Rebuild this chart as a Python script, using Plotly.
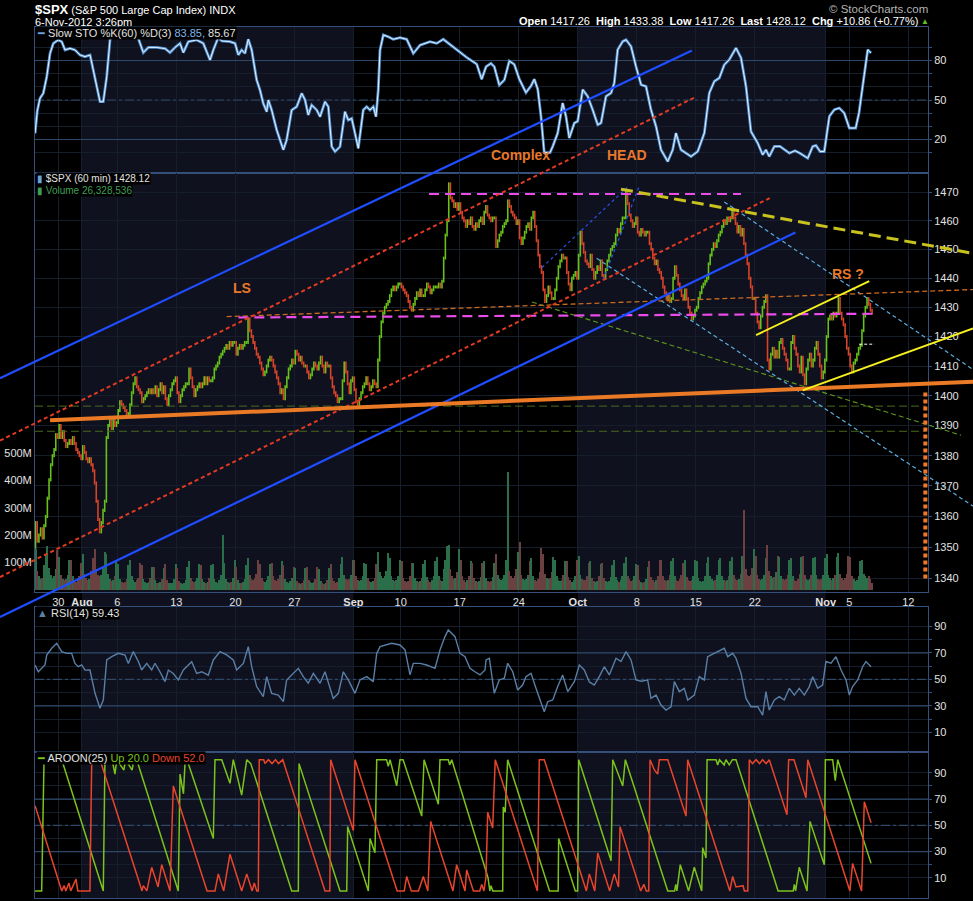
import math
import plotly.graph_objects as go

# ---------------------------------------------------------------------------
# data ($SPX, 60 min bars, 7 per session)
# ---------------------------------------------------------------------------
DAYS = ["Jul 26", "Jul 27", "Jul 30", "Jul 31", "Aug 1", "Aug 2", "Aug 3",
        "Aug 6", "Aug 7", "Aug 8", "Aug 9", "Aug 10", "Aug 13", "Aug 14",
        "Aug 15", "Aug 16", "Aug 17", "Aug 20", "Aug 21", "Aug 22", "Aug 23",
        "Aug 24", "Aug 27", "Aug 28", "Aug 29", "Aug 30", "Aug 31", "Sep 4",
        "Sep 5", "Sep 6", "Sep 7", "Sep 10", "Sep 11", "Sep 12", "Sep 13",
        "Sep 14", "Sep 17", "Sep 18", "Sep 19", "Sep 20", "Sep 21", "Sep 24",
        "Sep 25", "Sep 26", "Sep 27", "Sep 28", "Oct 1", "Oct 2", "Oct 3",
        "Oct 4", "Oct 5", "Oct 8", "Oct 9", "Oct 10", "Oct 11", "Oct 12",
        "Oct 15", "Oct 16", "Oct 17", "Oct 18", "Oct 19", "Oct 22", "Oct 23",
        "Oct 24", "Oct 25", "Oct 26", "Oct 31", "Nov 1", "Nov 2", "Nov 5", "Nov 6"]
FUTURE_DAYS = ["Nov 7", "Nov 8", "Nov 9", "Nov 12"]

OPEN_FIRST = 1350
CLOSE = [
    [1358, 1352, 1354, 1356, 1353, 1357, 1360], [1366, 1372, 1377, 1380, 1382, 1387, 1386],
    [1390, 1386, 1388, 1385, 1383, 1384, 1385], [1384, 1386, 1384, 1382, 1381, 1380, 1379],
    [1383, 1381, 1379, 1378, 1379, 1377, 1375], [1371, 1365, 1359, 1355, 1358, 1362, 1365],
    [1386, 1390, 1392, 1389, 1392, 1390, 1391], [1395, 1398, 1397, 1396, 1395, 1394, 1394],
    [1397, 1401, 1404, 1406, 1403, 1402, 1401], [1398, 1399, 1400, 1401, 1402, 1401, 1402],
    [1401, 1403, 1400, 1402, 1404, 1401, 1403], [1399, 1397, 1400, 1402, 1404, 1405, 1406],
    [1401, 1398, 1400, 1402, 1403, 1404, 1404], [1409, 1406, 1403, 1400, 1402, 1403, 1404],
    [1403, 1404, 1406, 1404, 1406, 1405, 1405], [1406, 1409, 1410, 1411, 1413, 1414, 1415],
    [1416, 1417, 1416, 1418, 1417, 1418, 1418], [1414, 1416, 1417, 1416, 1417, 1418, 1418],
    [1426, 1422, 1420, 1418, 1416, 1414, 1413], [1411, 1409, 1407, 1408, 1410, 1412, 1413],
    [1412, 1410, 1408, 1406, 1404, 1401, 1402], [1399, 1403, 1406, 1409, 1410, 1412, 1411],
    [1415, 1414, 1412, 1413, 1411, 1410, 1410], [1408, 1406, 1407, 1409, 1411, 1410, 1409],
    [1411, 1413, 1410, 1408, 1411, 1410, 1410], [1406, 1403, 1401, 1400, 1398, 1399, 1399],
    [1405, 1411, 1408, 1404, 1401, 1405, 1406], [1402, 1398, 1397, 1399, 1401, 1403, 1404],
    [1406, 1404, 1402, 1403, 1405, 1404, 1403], [1412, 1420, 1425, 1428, 1430, 1431, 1432],
    [1434, 1436, 1437, 1436, 1437, 1438, 1438], [1437, 1436, 1435, 1434, 1432, 1430, 1429],
    [1431, 1433, 1435, 1434, 1436, 1434, 1434], [1436, 1438, 1437, 1435, 1436, 1437, 1437],
    [1437, 1438, 1437, 1439, 1447, 1455, 1460], [1473, 1468, 1467, 1465, 1466, 1464, 1466],
    [1463, 1461, 1460, 1458, 1460, 1459, 1461], [1458, 1457, 1459, 1458, 1460, 1461, 1459],
    [1463, 1465, 1462, 1461, 1460, 1461, 1461], [1451, 1453, 1455, 1456, 1458, 1459, 1460],
    [1467, 1465, 1463, 1462, 1461, 1459, 1460], [1454, 1452, 1454, 1456, 1458, 1459, 1457],
    [1461, 1463, 1458, 1453, 1448, 1444, 1442], [1436, 1432, 1434, 1437, 1435, 1433, 1433],
    [1436, 1440, 1444, 1446, 1448, 1447, 1447], [1442, 1438, 1436, 1440, 1441, 1442, 1440],
    [1448, 1456, 1452, 1449, 1446, 1445, 1444], [1448, 1443, 1440, 1442, 1444, 1443, 1446],
    [1441, 1440, 1443, 1446, 1448, 1450, 1451], [1452, 1455, 1457, 1456, 1459, 1461, 1461],
    [1470, 1466, 1462, 1460, 1458, 1459, 1461], [1456, 1455, 1457, 1456, 1455, 1456, 1456],
    [1452, 1450, 1447, 1445, 1446, 1443, 1442], [1440, 1437, 1435, 1433, 1434, 1432, 1433],
    [1440, 1444, 1441, 1438, 1436, 1434, 1433], [1436, 1433, 1430, 1428, 1426, 1427, 1429],
    [1430, 1433, 1435, 1437, 1438, 1439, 1440], [1445, 1448, 1450, 1452, 1451, 1453, 1455],
    [1456, 1458, 1460, 1459, 1461, 1460, 1461], [1464, 1461, 1459, 1456, 1458, 1455, 1457],
    [1452, 1448, 1445, 1440, 1437, 1433, 1433], [1428, 1425, 1423, 1427, 1430, 1432, 1434],
    [1412, 1409, 1414, 1416, 1413, 1415, 1413], [1418, 1419, 1416, 1414, 1412, 1409, 1409],
    [1418, 1420, 1416, 1414, 1410, 1408, 1413], [1407, 1404, 1409, 1412, 1414, 1410, 1412],
    [1416, 1418, 1414, 1410, 1406, 1408, 1412], [1420, 1426, 1427, 1426, 1428, 1427, 1428],
    [1433, 1428, 1426, 1424, 1420, 1416, 1414], [1410, 1408, 1411, 1412, 1414, 1416, 1417],
    [1422, 1427, 1430, 1433, 1431, 1429, 1428],
]

VOLUME_M = [
    [150, 70, 50, 40, 45, 90, 130], [160, 80, 55, 45, 50, 75, 145], [120, 55, 40, 35, 40, 55, 110],
    [110, 50, 36, 30, 36, 50, 100], [130, 60, 45, 36, 40, 70, 115], [150, 75, 55, 50, 55, 85, 140],
    [130, 60, 40, 32, 36, 50, 105], [95, 40, 30, 26, 30, 40, 90], [110, 50, 36, 30, 35, 45, 100],
    [90, 40, 30, 26, 30, 45, 85], [85, 36, 27, 24, 28, 40, 80], [95, 36, 27, 24, 27, 40, 95],
    [80, 34, 26, 22, 26, 38, 85], [105, 45, 34, 28, 32, 44, 95], [90, 40, 30, 26, 30, 45, 90],
    [95, 40, 30, 26, 36, 55, 200], [100, 40, 30, 26, 30, 44, 110], [85, 36, 27, 24, 28, 40, 90],
    [115, 55, 40, 36, 44, 60, 110], [95, 45, 34, 30, 36, 50, 95], [100, 50, 38, 34, 40, 55, 105],
    [90, 40, 30, 26, 32, 45, 85], [80, 34, 26, 22, 26, 36, 80], [85, 36, 28, 24, 28, 40, 85],
    [75, 34, 25, 22, 25, 36, 80], [95, 44, 32, 26, 30, 45, 95], [120, 55, 40, 36, 40, 55, 110],
    [110, 50, 38, 32, 36, 50, 100], [95, 44, 32, 28, 32, 45, 95], [140, 65, 50, 44, 50, 70, 135],
    [115, 50, 38, 32, 36, 50, 110], [105, 45, 34, 30, 34, 50, 100], [100, 44, 32, 28, 32, 45, 95],
    [110, 48, 36, 30, 36, 50, 105], [120, 50, 38, 34, 75, 110, 160], [165, 75, 50, 40, 45, 65, 150],
    [110, 50, 36, 30, 36, 50, 105], [100, 45, 34, 30, 34, 48, 100], [105, 45, 34, 30, 34, 48, 100],
    [130, 55, 40, 36, 40, 55, 110], [430, 70, 50, 45, 50, 75, 140], [176, 55, 40, 36, 40, 55, 105],
    [115, 50, 38, 34, 40, 65, 155], [130, 60, 45, 40, 45, 65, 120], [110, 50, 38, 34, 38, 55, 105],
    [105, 48, 36, 30, 36, 52, 110], [125, 55, 40, 36, 38, 52, 100], [105, 45, 34, 30, 34, 50, 95],
    [100, 44, 32, 28, 32, 48, 90], [110, 48, 36, 30, 36, 50, 100], [120, 52, 40, 34, 38, 52, 95],
    [90, 38, 28, 24, 28, 40, 85], [105, 48, 36, 30, 36, 52, 110], [110, 50, 38, 34, 38, 55, 105],
    [115, 50, 38, 34, 40, 56, 100], [110, 48, 36, 32, 36, 52, 110], [105, 45, 34, 30, 34, 50, 100],
    [120, 52, 40, 34, 38, 55, 110], [115, 50, 38, 32, 36, 52, 105], [120, 55, 40, 36, 40, 60, 125],
    [292, 75, 55, 50, 55, 80, 150], [125, 55, 40, 36, 40, 56, 115], [165, 70, 50, 44, 48, 65, 125],
    [120, 52, 40, 36, 40, 56, 110], [115, 50, 38, 34, 40, 60, 120], [125, 55, 40, 36, 40, 55, 115],
    [120, 55, 40, 36, 40, 56, 115], [130, 56, 44, 38, 42, 56, 120], [135, 60, 45, 38, 44, 60, 125],
    [120, 52, 40, 34, 38, 52, 105], [110, 60, 50, 45, 50, 40, 26],
]

TICKS = [("Jul 30", "30"), ("Aug 1", "<b>Aug</b>"), ("Aug 6", "6"), ("Aug 13", "13"),
         ("Aug 20", "20"), ("Aug 27", "27"), ("Sep 4", "<b>Sep</b>"), ("Sep 10", "10"),
         ("Sep 17", "17"), ("Sep 24", "24"), ("Oct 1", "<b>Oct</b>"), ("Oct 8", "8"),
         ("Oct 15", "15"), ("Oct 22", "22"), ("Nov 1", "<b>Nov</b>"), ("Nov 5", "5"),
         ("Nov 12", "12")]
SHADED_MONTHS = [("Aug 1", "Sep 4"), ("Oct 1", "Nov 1")]
PRICE_TICKS = list(range(1340, 1471, 10))
VOL_TICKS = [100, 200, 300, 400, 500]

# indicator vertices: (trading-day position, value)
STO = [(0.03, 24.7), (0.22, 41.8), (0.45, 51.3), (0.73, 55.1), (1.02, 67.7), (1.30, 85.4), (1.58, 93.0),
       (2.00, 95.6), (2.29, 94.3), (2.57, 88.0), (2.99, 89.2), (3.41, 88.0), (3.84, 84.2), (4.26, 82.9),
       (4.69, 84.2), (5.11, 67.7), (5.53, 48.7), (5.81, 48.7), (6.10, 67.7), (6.38, 95.6), (6.55, 99.5),
       (7.20, 99.8), (8.00, 99.5), (8.75, 97.4), (9.20, 86.0), (9.62, 89.9), (10.33, 89.9), (11.05, 89.0),
       (11.46, 86.0), (11.88, 89.9), (12.31, 93.0), (12.59, 86.0), (13.01, 94.3), (13.72, 95.6),
       (14.28, 93.0), (14.85, 80.4), (15.13, 88.0), (15.55, 97.4), (15.84, 94.8), (16.54, 94.3),
       (16.97, 93.0), (17.25, 84.2), (17.53, 88.0), (17.81, 85.4), (18.09, 96.1), (18.38, 88.0),
       (18.80, 65.2), (19.08, 57.6), (19.36, 47.5), (19.65, 41.1), (19.79, 50.0), (20.07, 42.4),
       (20.50, 27.2), (21.06, 12.1), (21.34, 19.7), (21.77, 42.4), (22.19, 44.9), (22.62, 55.1),
       (22.90, 50.0), (23.17, 38.6), (23.46, 46.2), (23.89, 42.4), (24.17, 37.3), (24.59, 48.7),
       (24.87, 44.9), (25.16, 14.6), (25.44, 10.8), (25.86, 14.6), (26.28, 41.1), (26.56, 34.8),
       (26.85, 36.0), (27.13, 24.7), (27.41, 13.3), (27.83, 42.4), (28.12, 44.9), (28.40, 42.4),
       (28.68, 44.9), (28.91, 37.3), (29.10, 57.6), (29.25, 88.0), (29.53, 99.4), (29.95, 98.0),
       (30.37, 96.1), (30.94, 97.4), (31.51, 96.1), (32.07, 85.4), (32.64, 91.7), (33.48, 94.3),
       (34.05, 93.0), (34.61, 96.1), (35.46, 89.9), (36.59, 82.3), (37.44, 77.2), (37.86, 65.8),
       (38.23, 75.3), (38.65, 77.8), (38.93, 75.3), (39.35, 61.4), (39.78, 65.2), (40.20, 79.6),
       (40.62, 77.1), (41.05, 65.8), (41.61, 55.6), (42.04, 60.7), (42.32, 65.8), (42.61, 58.2),
       (42.88, 37.9), (43.16, 10.1), (43.65, 10.1), (43.88, 14.8), (44.30, 24.9), (44.72, 47.7),
       (45.00, 37.6), (45.28, 21.1), (45.71, 32.5), (45.99, 33.8), (46.42, 57.9), (46.84, 52.8),
       (47.26, 42.6), (47.69, 31.2), (47.97, 32.5), (48.39, 52.8), (48.82, 55.3), (49.09, 62.9),
       (49.38, 88.2), (49.81, 94.5), (50.09, 95.8), (50.51, 90.7), (50.93, 75.5), (51.36, 61.6),
       (51.78, 60.3), (52.20, 42.6), (52.63, 29.9), (53.05, 12.2), (53.62, 3.3), (54.04, 12.2),
       (54.32, 24.9), (54.74, 12.2), (55.17, 9.6), (55.59, 7.1), (56.16, 10.9), (56.72, 24.9),
       (57.14, 55.3), (57.57, 64.2), (57.99, 66.7), (58.41, 76.8), (58.83, 80.6), (59.40, 89.5),
       (59.83, 81.9), (60.25, 60.3), (60.67, 26.1), (61.24, 17.3), (61.66, 8.4), (61.94, 12.2),
       (62.22, 7.1), (62.65, 14.8), (63.13, 14.8), (63.92, 9.6), (64.40, 11.5), (64.82, 9.6),
       (65.48, 5.8), (65.90, 14.8), (66.18, 15.5), (66.52, 10.9), (66.88, 10.9), (67.31, 37.6),
       (67.73, 42.6), (68.15, 43.9), (68.57, 40.1), (69.00, 28.7), (69.54, 28.7), (69.82, 40.1),
       (70.13, 60.3), (70.56, 88.2), (70.84, 85.7)]

RSI = [(0.03, 60.8), (0.30, 55.7), (0.87, 60.8), (1.02, 68.3), (1.44, 73.4), (1.86, 77.2), (2.29, 70.9),
       (2.71, 69.6), (3.13, 69.6), (3.41, 62.0), (3.69, 59.5), (3.98, 60.8), (4.26, 56.9), (4.68, 57.0),
       (5.11, 39.4), (5.53, 28.1), (5.81, 34.4), (6.10, 64.6), (6.52, 67.1), (7.08, 69.6), (7.65, 68.3),
       (7.93, 62.0), (8.35, 70.9), (8.78, 63.4), (9.06, 57.0), (9.49, 62.0), (9.91, 57.0), (10.19, 62.1),
       (10.61, 55.7), (11.04, 48.2), (11.32, 57.0), (11.74, 54.4), (12.16, 49.5), (12.59, 57.0),
       (13.30, 63.3), (13.72, 54.4), (14.15, 55.7), (14.70, 53.1), (15.13, 64.6), (15.70, 70.9),
       (16.26, 68.4), (16.82, 64.6), (17.11, 57.0), (17.67, 62.0), (18.09, 74.6), (18.38, 59.5),
       (18.80, 44.5), (19.36, 36.9), (19.65, 52.0), (20.07, 39.4), (20.63, 38.1), (21.06, 33.1),
       (21.34, 49.5), (21.77, 53.3), (22.33, 58.3), (22.75, 52.0), (23.17, 47.0), (23.60, 54.4),
       (24.17, 47.0), (24.59, 55.7), (25.01, 44.5), (25.29, 35.6), (25.72, 39.4), (26.14, 55.7),
       (26.56, 49.5), (27.13, 39.4), (27.55, 49.5), (28.12, 52.0), (28.68, 48.2), (28.97, 69.6),
       (29.25, 74.6), (30.24, 77.2), (30.94, 75.9), (31.37, 72.2), (31.79, 53.3), (32.07, 62.0),
       (32.64, 62.0), (33.20, 60.8), (33.91, 58.3), (34.33, 72.1), (34.75, 82.2), (35.03, 87.2),
       (35.60, 82.2), (36.02, 69.6), (36.45, 67.1), (36.87, 58.3), (37.29, 55.7), (37.72, 53.3),
       (38.14, 57.0), (38.23, 64.6), (38.51, 65.9), (38.93, 39.4), (39.35, 49.5), (39.78, 50.8),
       (40.06, 62.1), (40.49, 55.7), (40.91, 41.9), (41.33, 45.7), (41.61, 52.0), (42.04, 54.5),
       (42.46, 43.2), (42.88, 33.1), (43.16, 25.5), (43.45, 33.1), (43.88, 34.4), (44.30, 44.5),
       (44.72, 53.3), (45.15, 40.7), (45.71, 48.2), (46.13, 60.8), (46.55, 57.0), (46.98, 48.0),
       (47.40, 45.7), (47.82, 52.0), (48.25, 59.5), (48.67, 53.3), (49.24, 65.9), (49.66, 63.4),
       (50.09, 70.9), (50.51, 64.6), (50.93, 49.5), (51.36, 48.5), (51.92, 49.5), (52.20, 35.6),
       (52.63, 38.1), (53.05, 30.6), (53.47, 26.8), (53.90, 29.3), (54.18, 48.2), (54.60, 40.7),
       (55.02, 43.2), (55.31, 34.4), (55.87, 38.1), (56.29, 52.0), (56.72, 49.5), (57.00, 67.1),
       (57.56, 69.6), (57.99, 72.1), (58.41, 73.4), (58.70, 67.1), (59.12, 69.6), (59.40, 65.9),
       (59.83, 54.5), (60.25, 35.6), (60.67, 29.3), (61.24, 29.3), (61.66, 23.0), (61.94, 40.7),
       (62.22, 26.8), (62.65, 34.4), (63.07, 36.9), (63.49, 34.4), (63.92, 43.2), (64.34, 38.1),
       (64.76, 43.2), (65.19, 38.1), (65.61, 44.5), (65.90, 52.0), (66.32, 43.2), (66.74, 45.7),
       (67.02, 63.4), (67.45, 62.1), (67.87, 67.1), (68.30, 57.0), (68.72, 49.5), (69.00, 38.1),
       (69.28, 44.5), (69.71, 49.5), (70.13, 59.5), (70.41, 63.4), (70.84, 59.5)]

AROON_UP = [(0.03, 0), (0.59, 0), (0.79, 100), (2.29, 100), (5.81, 0), (5.95, 100), (6.55, 100),
            (6.80, 89), (6.95, 100), (7.55, 92), (7.70, 100), (8.25, 92), (8.40, 100), (8.64, 100),
            (12.16, 0), (12.31, 89), (12.60, 74), (12.73, 97), (12.90, 100), (15.13, 40), (15.27, 100),
            (15.84, 100), (16.54, 82), (16.82, 100), (17.53, 73), (17.96, 100), (18.30, 97), (21.77, 0),
            (22.33, 0), (22.39, 97), (25.86, 0), (26.43, 0), (26.51, 49), (28.26, 0), (28.40, 40),
            (28.55, 36), (28.82, 29), (28.97, 100), (29.80, 100), (29.95, 95), (30.10, 100), (30.66, 80),
            (30.94, 100), (31.20, 100), (32.78, 57), (32.98, 100), (34.19, 66), (34.33, 100),
            (35.03, 100), (35.15, 96), (35.32, 100), (38.23, 15), (38.40, 10), (38.55, 0), (38.65, 4),
            (38.80, 0), (39.64, 0), (39.69, 64), (39.85, 60), (40.06, 100), (43.61, 0), (44.34, 0),
            (44.38, 40), (45.79, 0), (45.99, 0), (46.08, 100), (48.82, 23), (48.96, 100), (49.09, 97),
            (49.81, 80), (50.03, 100), (53.62, 0), (54.20, 0), (54.30, 5), (54.40, 0), (54.68, 20),
            (55.39, 0), (55.87, 18), (56.50, 0), (56.58, 33), (56.86, 25), (56.95, 100), (57.71, 100),
            (57.85, 96), (58.00, 100), (58.40, 96), (58.55, 100), (58.83, 96), (59.10, 100),
            (59.40, 100), (62.97, 0), (64.25, 0), (64.34, 5), (64.45, 0), (64.76, 18), (65.42, 0),
            (65.67, 53), (66.88, 20), (66.97, 100), (67.59, 100), (67.81, 84), (68.02, 100), (70.84, 21)]

AROON_DOWN = [(0.03, 65), (2.29, 0), (2.50, 4), (2.63, 0), (2.90, 6), (3.05, 0), (3.50, 9), (3.65, 0),
              (4.68, 0), (4.83, 100), (5.53, 100), (9.09, 0), (9.20, 4), (9.50, 0), (9.91, 18),
              (10.45, 3), (10.76, 20), (11.46, 0), (11.74, 80), (14.60, 0), (15.27, 0), (15.55, 13),
              (16.01, 0), (16.54, 28), (17.53, 0), (17.96, 13), (18.42, 0), (18.60, 6), (18.81, 0),
              (18.94, 0), (19.02, 100), (19.40, 100), (19.50, 97), (19.80, 100), (20.10, 97),
              (20.40, 100), (20.65, 97), (21.01, 100), (24.59, 0), (25.00, 0), (25.07, 100),
              (26.99, 46), (27.13, 100), (30.70, 0), (31.30, 0), (31.51, 11), (31.90, 0), (32.50, 0),
              (32.92, 11), (33.30, 0), (33.54, 53), (35.43, 0), (35.74, 20), (36.45, 0), (36.59, 16),
              (37.16, 0), (37.70, 0), (37.86, 5), (38.05, 0), (38.23, 11), (38.37, 60), (38.65, 52),
              (38.79, 48), (39.01, 100), (42.58, 0), (42.74, 100), (43.16, 100), (46.73, 0),
              (46.98, 13), (47.44, 0), (47.69, 29), (48.70, 0), (49.09, 13), (49.45, 3), (49.58, 49),
              (51.33, 0), (51.60, 5), (51.80, 0), (52.01, 0), (52.12, 100), (52.50, 92), (52.77, 89),
              (52.91, 100), (53.62, 100), (55.17, 57), (55.31, 100), (58.88, 0), (59.12, 11),
              (59.40, 3), (60.00, 4), (60.11, 0), (60.40, 0), (60.53, 100), (60.80, 97), (61.10, 100),
              (61.40, 97), (61.65, 100), (61.95, 97), (62.22, 100), (63.72, 58), (63.86, 100),
              (64.31, 100), (65.33, 71), (65.48, 100), (69.05, 0), (69.28, 21), (70.04, 0),
              (70.27, 68), (70.84, 52)]

# hand-drawn trendlines, endpoints as (trading-day position, price)
TRENDLINES = {
    "green_h1": [(0.03, 1396.5), (75.5, 1396.5)],
    "green_h2": [(0.03, 1388.1), (75.5, 1388.1)],
    "green_thin": [(42.12, 1431.8), (78.46, 1386.8)],
    "lblue_up": [(58.41, 1466.6), (79.48, 1408.8)],
    "lblue_low": [(47.60, 1446.9), (79.48, 1363.4)],
    "blue_thin_a": [(42.97, 1443.7), (50.25, 1472.0)],
    "blue_thin_b": [(48.14, 1439.4), (51.19, 1472.0)],
    "orange_thin": [(16.26, 1426.8), (79.48, 1436.1)],
    "magenta_mid": [(17.25, 1426.5), (71.26, 1427.8)],
    "magenta_top": [(33.40, 1469.4), (59.83, 1469.4)],
    "red_up": [(-2.94, 1385.0), (55.84, 1503.7)],
    "red_low": [(-2.94, 1340.4), (62.37, 1468.2)],
    "blue_up": [(-2.94, 1405.9), (55.67, 1520.9)],
    "blue_low": [(-2.94, 1327.6), (64.43, 1455.9)],
    "yellow_dash": [(49.66, 1471.1), (79.48, 1448.6)],
    "neckline": [(1.30, 1391.8), (79.48, 1404.7)],
    "yellow_up": [(61.10, 1420.5), (70.69, 1439.0)],
    "yellow_low": [(65.05, 1401.8), (79.48, 1422.8)],
    "white_tick": [(69.84, 1417.4), (71.12, 1417.4)],
    "orange_vert": [(75.44, 1401.1), (75.44, 1339.5)],
}
NOTES = [("LS", 17.58, 1436.6), ("Complex", 41.19, 1483.2),
         ("HEAD", 50.14, 1483.2), ("RS ?", 68.86, 1441.3)]

# ---------------------------------------------------------------------------
# look
# ---------------------------------------------------------------------------
LINE_STYLE = {
    "green_h1": ("#4b6b1e", 1, "8px,4px"), "green_h2": ("#4b6b1e", 1, "8px,4px"),
    "green_thin": ("#5f9a1e", 1.1, "5px,3px"), "lblue_up": ("#5aaee0", 1.2, "4px,3px"),
    "lblue_low": ("#5aaee0", 1.2, "4px,3px"), "blue_thin_a": ("#2554e8", 1.2, "3px,3px"),
    "blue_thin_b": ("#2554e8", 1.2, "3px,3px"), "orange_thin": ("#c86a20", 1.3, "5px,3px"),
    "magenta_mid": ("#e94ce9", 2.2, "10px,6px"), "magenta_top": ("#e94ce9", 2.2, "10px,6px"),
    "red_up": ("#e23b22", 2, "4px,3px"), "red_low": ("#e23b22", 2, "4px,3px"),
    "blue_up": ("#1f4dff", 2.2, "solid"), "blue_low": ("#1f4dff", 2.2, "solid"),
    "yellow_dash": ("#c9c21e", 3, "12px,6px"), "neckline": ("#ea7a26", 4, "solid"),
    "yellow_up": ("#f5f01e", 2, "solid"), "yellow_low": ("#f5f01e", 2, "solid"),
    "white_tick": ("#ffffff", 1, "3px,2px"), "orange_vert": ("#f07828", 4, "4px,3px"),
}
FONT = "Liberation Sans, Arial, sans-serif"
SHADE = "#0f111e"
GRID = "#161e2c"
MAJOR = "#2f4868"
BORDER = "#34507a"
TXT = "#e2e2e2"
UP, DOWN = "#66c21a", "#d8432a"
VOL_UP, VOL_DN = "#2b6e4a", "#6a4040"

# pixel geometry of the 973x901 picture
W, H = 973, 901
L_PX, R_PX = 35, 928
DAY0_PX, DAY_PX = 34.7, 11.806
LOGREF, LOGREF_PX, PX_DECADE = math.log10(1470), 192.3, 9598.0
STO_BOX, PRICE_BOX, RSI_BOX, AROON_BOX = (27, 173), (173, 592), (607, 752), (752, 898)


def day_at(px):
    return (px - DAY0_PX) / DAY_PX


def log_at(py):
    return LOGREF + (LOGREF_PX - py) / PX_DECADE


def dom(box):
    return [1 - box[1] / H, 1 - box[0] / H]


def lin_range(box, mid_px, px_per_unit, mid=50):
    return [mid - (box[1] - mid_px) / px_per_unit, mid + (mid_px - box[0]) / px_per_unit]


axis_days = DAYS + FUTURE_DAYS
day_idx = {d: i for i, d in enumerate(axis_days)}
tick_pos = [day_idx[d] for d, _ in TICKS]
tick_txt = [t for _, t in TICKS]
X_RANGE = [day_at(L_PX), day_at(R_PX)]

fig = go.Figure()

# ---- volume + price bars ----
bx = {True: [], False: []}
by = {True: [], False: []}
vx, vy, vc = [], [], []
prev = OPEN_FIRST
for d, row in enumerate(CLOSE):
    for k, c in enumerate(row):
        x = d + (k + 0.5) / 7
        up = c >= prev
        bx[up] += [x, x, None]
        by[up] += [min(prev, c) - 0.5, max(prev, c) + 0.5, None]
        vx.append(x)
        vy.append(VOLUME_M[d][k])
        vc.append(VOL_UP if up else VOL_DN)
        prev = c

fig.add_trace(go.Bar(x=vx, y=vy, width=0.09, marker=dict(color=vc, line_width=0),
                     xaxis="x2", yaxis="y2", showlegend=False))
for up, col in ((True, UP), (False, DOWN)):
    fig.add_trace(go.Scatter(x=bx[up], y=by[up], mode="lines", line=dict(color=col, width=1.6),
                             xaxis="x2", yaxis="y5", showlegend=False))


# ---- indicator panels ----
def guides(xa, ya, solid, dashed):
    for v in solid:
        fig.add_trace(go.Scatter(x=X_RANGE, y=[v, v], mode="lines", line=dict(color=MAJOR, width=1.2),
                                 xaxis=xa, yaxis=ya, showlegend=False))
    fig.add_trace(go.Scatter(x=X_RANGE, y=[dashed, dashed], mode="lines",
                             line=dict(color=MAJOR, width=1.2, dash="dashdot"),
                             xaxis=xa, yaxis=ya, showlegend=False))


guides("x", "y", [20, 80], 50)
guides("x3", "y3", [30, 70], 50)
guides("x4", "y4", [30, 70], 50)

sx, sv = zip(*STO)
fig.add_trace(go.Scatter(x=sx, y=sv, mode="lines", line=dict(color="#4f8fd0", width=2.8),
                         xaxis="x", yaxis="y", showlegend=False))
fig.add_trace(go.Scatter(x=sx, y=sv, mode="lines", line=dict(color="#e8f1fb", width=1),
                         xaxis="x", yaxis="y", showlegend=False))
rx, rv = zip(*RSI)
fig.add_trace(go.Scatter(x=rx, y=rv, mode="lines", line=dict(color="#5a7fa6", width=1.4),
                         xaxis="x3", yaxis="y3", showlegend=False))
for pts, col in ((AROON_UP, "#7cc21c"), (AROON_DOWN, "#e8452c")):
    ax_, av = zip(*pts)
    fig.add_trace(go.Scatter(x=ax_, y=av, mode="lines", line=dict(color=col, width=1.5),
                             xaxis="x4", yaxis="y4", showlegend=False))

# ---- trendlines on a full-figure overlay (they run past the panels) ----
for name, pts in TRENDLINES.items():
    col, wid, dash = LINE_STYLE[name]
    fig.add_trace(go.Scatter(x=[p[0] for p in pts], y=[p[1] for p in pts], mode="lines",
                             line=dict(color=col, width=wid, dash=dash),
                             xaxis="x6", yaxis="y6", showlegend=False))

# ---- month shading ----
shapes = []
for a, b in SHADED_MONTHS:
    shapes.append(dict(type="rect", xref="x2", yref="paper", x0=day_idx[a], x1=day_idx[b],
                       y0=1 - AROON_BOX[1] / H, y1=1 - STO_BOX[0] / H,
                       fillcolor=SHADE, line_width=0, layer="below"))

# ---- axes ----
tfont = dict(family=FONT, size=11, color=TXT)


def xaxis(box_anchor, labels=False):
    return dict(domain=[L_PX / W, R_PX / W], range=X_RANGE, anchor=box_anchor,
                tickvals=tick_pos, ticktext=tick_txt, showticklabels=labels, tickfont=tfont,
                ticks="", showgrid=True, gridcolor=GRID, zeroline=False,
                showline=True, linecolor=BORDER, mirror=True, fixedrange=True)


def ind_axis(box, anchor, rng, labels):
    vals = list(range(10, 100, 10))
    return dict(domain=dom(box), range=rng, anchor=anchor, side="right",
                tickvals=vals, ticktext=[str(v) if v in labels else "" for v in vals],
                tickfont=tfont, ticks="outside", ticklen=3, tickcolor=BORDER,
                showgrid=True, gridcolor=GRID, zeroline=False,
                showline=True, linecolor=BORDER, mirror=True, fixedrange=True)


vol_rng = [-(PRICE_BOX[1] - 590) / 0.274, (590 - PRICE_BOX[0]) / 0.274]

fig.update_layout(
    width=W, height=H, margin=dict(l=0, r=0, t=0, b=0),
    paper_bgcolor="#000000", plot_bgcolor="rgba(0,0,0,0)",
    showlegend=False, hovermode=False, bargap=0,
    xaxis=xaxis("y"), xaxis2=xaxis("y2", labels=True), xaxis3=xaxis("y3"), xaxis4=xaxis("y4"),
    yaxis=ind_axis(STO_BOX, "x", lin_range(STO_BOX, 100, 1.317), (20, 50, 80)),
    yaxis3=ind_axis(RSI_BOX, "x3", lin_range(RSI_BOX, 679.3, 1.325), (10, 30, 50, 70, 90)),
    yaxis4=ind_axis(AROON_BOX, "x4", lin_range(AROON_BOX, 825.3, 1.3125), (10, 30, 50, 70, 90)),
    yaxis2=dict(domain=dom(PRICE_BOX), range=vol_rng, anchor="x2", side="left",
                tickvals=VOL_TICKS, ticktext=[f"{v}M" for v in VOL_TICKS], tickfont=tfont,
                ticks="", showgrid=False, zeroline=False, showline=True, linecolor=BORDER,
                mirror=True, fixedrange=True),
    yaxis5=dict(type="log", range=[log_at(PRICE_BOX[1]), log_at(PRICE_BOX[0])], anchor="x2",
                overlaying="y2", side="right", tickvals=PRICE_TICKS, tickfont=tfont,
                ticks="outside", ticklen=3, tickcolor=BORDER, showgrid=True, gridcolor=GRID,
                zeroline=False, fixedrange=True),
    xaxis6=dict(domain=[0, 1], range=[day_at(0), day_at(W)], anchor="y6", visible=False,
                fixedrange=True),
    yaxis6=dict(domain=[0, 1], type="log", range=[log_at(H), log_at(0)], anchor="x6",
                visible=False, fixedrange=True),
    shapes=shapes,
)

# ---- texts ----
ann = []


def label(text, px, py, size=11, color=TXT, xanchor="left", yanchor="middle", bg=None):
    ann.append(dict(text=text, x=px / W, y=1 - py / H, xref="paper", yref="paper",
                    xanchor=xanchor, yanchor=yanchor, showarrow=False,
                    font=dict(family=FONT, size=size, color=color),
                    bgcolor=bg, borderpad=0))


label("<span style='font-size:13px'><b>$SPX</b></span> (S&P 500 Large Cap Index) INDX",
      34, 9, size=11, color="#ffffff")
label("6-Nov-2012 3:26pm", 34, 22, size=11, color="#ffffff")
label("© StockCharts.com", 929, 9, size=11.5, color="#b4b4b4", xanchor="right")
sp = "\u00a0\u00a0"
label(f"<b>Open</b> 1417.26{sp}<b>High</b> 1433.38{sp}<b>Low</b> 1417.26{sp}"
      f"<b>Last</b> 1428.12{sp}<b>Chg</b> +10.86 (+0.77%)", 919, 21, size=11, color="#ffffff",
      xanchor="right")
label("▲", 925, 21, size=8, color="#5fbf2a", xanchor="center")
label("<span style='color:#6aa5e0'>━</span> Slow STO %K(60) %D(3) "
      "<span style='color:#7fb6ea'>83.85,</span> 85.67", 36, 33.5, bg="#000000")
label("<span style='color:#6aa5e0'>▮</span> $SPX (60 min) 1428.12", 36, 178.5, size=10, bg="#000000")
label("<span style='color:#3f9f55'>▮ Volume 26,328,536</span>", 36, 190.5, size=10, bg="#000000")
label("<span style='color:#5a7fa6'>▲</span> RSI(14) 59.43", 36, 613, bg="#000000")
label("<span style='color:#7cc21c'>━</span> AROON(25) <span style='color:#7cc21c'>Up 20.0</span> "
      "<span style='color:#e8452c'>Down 52.0</span>", 36, 758, bg="#000000")

for text, d, p in NOTES:
    ann.append(dict(text=f"<b>{text}</b>", x=d, y=math.log10(p), xref="x6", yref="y6",
                    showarrow=False, font=dict(family=FONT, size=14, color="#e8782a")))

fig.update_layout(annotations=ann)

# the page's default body margin would shift the 973x901 figure
fig.write_html("out.html", config={"displayModeBar": False},
               post_script="document.body.style.margin='0px';")
